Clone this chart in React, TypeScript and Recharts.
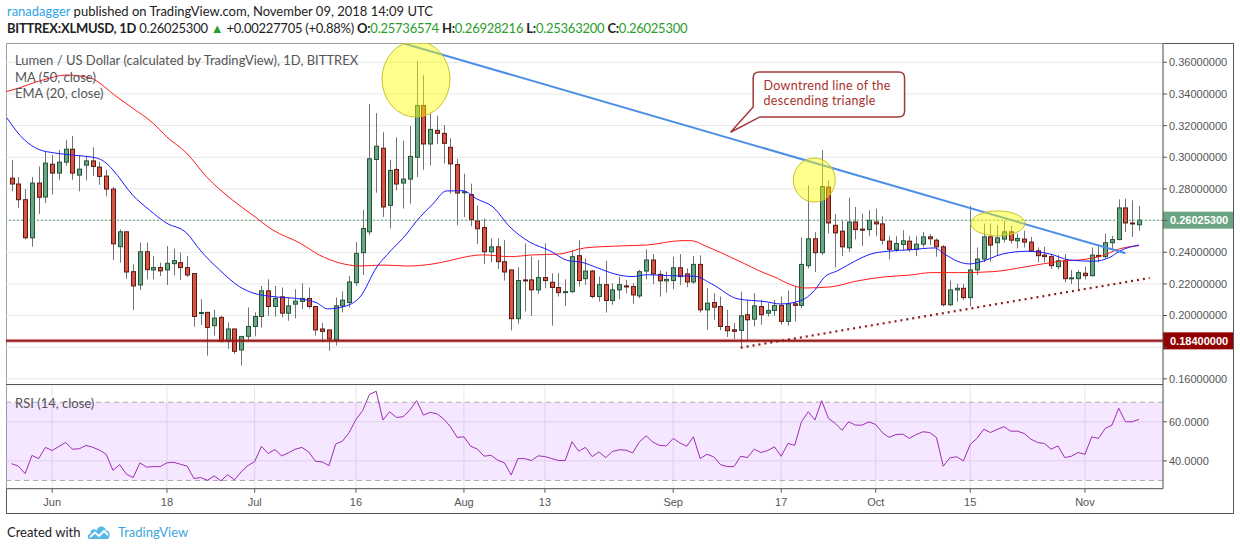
import React from "react";
import {
  ComposedChart,
  Bar,
  Line,
  XAxis,
  YAxis,
  CartesianGrid,
  ReferenceLine,
  ReferenceDot,
  ReferenceArea,
} from "recharts";

// day 0 = Jun 1 2018, first candle is May 26
const firstDay = -6;
const xDomain = [-6.84, 164.56];
const priceDomain = [0.1561, 0.3722];
const rsiDomain = [25.8, 78.8];

const tickDays = [0, 17, 30, 45, 61, 73, 92, 108, 122, 136, 153];
const tickLabels = ["Jun", "18", "Jul", "16", "Aug", "13", "Sep", "17", "Oct", "15", "Nov"];
const priceTicks = [0.16, 0.18, 0.2, 0.22, 0.24, 0.26, 0.28, 0.3, 0.32, 0.34, 0.36];
const rsiTicks = [40, 60];

const opens = [
  0.2868, 0.2831, 0.2732, 0.2491, 0.2837, 0.2749, 0.2956, 0.2900, 0.2969, 0.3051,
  0.2887, 0.2950, 0.2977, 0.2938, 0.2881, 0.2799, 0.2435, 0.2529, 0.2277, 0.2193,
  0.2403, 0.2288, 0.2303, 0.2288, 0.2328, 0.2334, 0.2303, 0.2265, 0.2013, 0.2020,
  0.1936, 0.1988, 0.1837, 0.1915, 0.1782, 0.1869, 0.1931, 0.1994, 0.2156, 0.2057,
  0.2118, 0.2015, 0.2072, 0.2089, 0.2108, 0.2057, 0.1915, 0.1909, 0.1846, 0.2061,
  0.2082, 0.2208, 0.2397, 0.2529, 0.2986, 0.3057, 0.2696, 0.2923, 0.2837, 0.2862,
  0.3000, 0.3327, 0.3084, 0.3170, 0.3151, 0.3063, 0.2954, 0.2776, 0.2764, 0.2598,
  0.2556, 0.2403, 0.2434, 0.2340, 0.2288, 0.1980, 0.2225, 0.2225, 0.2162, 0.2240,
  0.2210, 0.2177, 0.2145, 0.2151, 0.2378, 0.2233, 0.2281, 0.2120, 0.2195, 0.2095,
  0.2162, 0.2187, 0.2183, 0.2124, 0.2281, 0.2351, 0.2260, 0.2219, 0.2221, 0.2302,
  0.2263, 0.2212, 0.2323, 0.2036, 0.2082, 0.2057, 0.1931, 0.1910, 0.1906, 0.2005,
  0.1977, 0.2057, 0.2015, 0.2032, 0.2064, 0.1963, 0.2074, 0.2064, 0.2315, 0.2485,
  0.2397, 0.2811, 0.2570, 0.2533, 0.2428, 0.2591, 0.2546, 0.2543, 0.2591, 0.2579,
  0.2470, 0.2418, 0.2449, 0.2470, 0.2418, 0.2451, 0.2497, 0.2476, 0.2434, 0.2068,
  0.2162, 0.2172, 0.2113, 0.2288, 0.2357, 0.2497, 0.2460, 0.2483, 0.2529, 0.2472,
  0.2483, 0.2464, 0.2409, 0.2382, 0.2372, 0.2309, 0.2346, 0.2233, 0.2233, 0.2267,
  0.2252, 0.2380, 0.2372, 0.2460, 0.2480, 0.2680, 0.2585, 0.25736574,
];
const highs = [
  0.2984, 0.2875, 0.2799, 0.2875, 0.2942, 0.3036, 0.3015, 0.3047, 0.3110, 0.3135,
  0.3015, 0.3005, 0.3063, 0.2971, 0.2921, 0.2812, 0.2544, 0.2529, 0.2323, 0.2460,
  0.2460, 0.2376, 0.2334, 0.2439, 0.2422, 0.2397, 0.2376, 0.2265, 0.2103, 0.2020,
  0.2036, 0.1999, 0.1957, 0.1915, 0.1868, 0.2051, 0.2020, 0.2187, 0.2229, 0.2187,
  0.2177, 0.2114, 0.2166, 0.2204, 0.2177, 0.2057, 0.1953, 0.1909, 0.2114, 0.2152,
  0.2250, 0.2464, 0.2669, 0.3336, 0.3279, 0.3158, 0.2984, 0.3126, 0.3105, 0.3199,
  0.3608, 0.3518, 0.3283, 0.3262, 0.3204, 0.3120, 0.2990, 0.2896, 0.2833, 0.2696,
  0.2613, 0.2487, 0.2487, 0.2476, 0.2288, 0.2305, 0.2455, 0.2372, 0.2351, 0.2455,
  0.2267, 0.2267, 0.2229, 0.2413, 0.2476, 0.2361, 0.2288, 0.2246, 0.2346, 0.2204,
  0.2246, 0.2225, 0.2204, 0.2288, 0.2418, 0.2388, 0.2284, 0.2277, 0.2372, 0.2388,
  0.2298, 0.2376, 0.2380, 0.2173, 0.2141, 0.2120, 0.2036, 0.1952, 0.2151, 0.2099,
  0.2141, 0.2099, 0.2078, 0.2099, 0.2120, 0.2158, 0.2187, 0.2493, 0.2822, 0.2528,
  0.3046, 0.2853, 0.2640, 0.2602, 0.2745, 0.2686, 0.2644, 0.2665, 0.2675, 0.2627,
  0.2501, 0.2501, 0.2539, 0.2501, 0.2501, 0.2529, 0.2514, 0.2487, 0.2445, 0.2221,
  0.2200, 0.2200, 0.2692, 0.2430, 0.2581, 0.2581, 0.2571, 0.2596, 0.2567, 0.2518,
  0.2535, 0.2497, 0.2430, 0.2434, 0.2388, 0.2382, 0.2388, 0.2287, 0.2287, 0.2309,
  0.2430, 0.2451, 0.2518, 0.2504, 0.2734, 0.2738, 0.2728, 0.26928216,
];
const lows = [
  0.2785, 0.2680, 0.2481, 0.2435, 0.2642, 0.2711, 0.2764, 0.2858, 0.2946, 0.2858,
  0.2785, 0.2854, 0.2883, 0.2826, 0.2753, 0.2351, 0.2334, 0.2233, 0.2036, 0.2162,
  0.2229, 0.2229, 0.2250, 0.2193, 0.2254, 0.2225, 0.2244, 0.1929, 0.1940, 0.1747,
  0.1873, 0.1831, 0.1789, 0.1758, 0.1684, 0.1841, 0.1869, 0.1923, 0.1999, 0.1994,
  0.1988, 0.1967, 0.1982, 0.2040, 0.2045, 0.1873, 0.1831, 0.1778, 0.1810, 0.2020,
  0.2051, 0.2187, 0.2256, 0.2508, 0.2776, 0.2623, 0.2550, 0.2791, 0.2676, 0.2707,
  0.2875, 0.2921, 0.2948, 0.3084, 0.2961, 0.2770, 0.2571, 0.2623, 0.2564, 0.2451,
  0.2326, 0.2336, 0.2294, 0.2221, 0.1906, 0.1948, 0.2026, 0.1998, 0.2137, 0.2172,
  0.1936, 0.2120, 0.2061, 0.2141, 0.2183, 0.2193, 0.2109, 0.2088, 0.2019, 0.2068,
  0.2103, 0.2141, 0.2074, 0.2109, 0.2229, 0.2200, 0.2120, 0.2145, 0.2166, 0.2193,
  0.2179, 0.2200, 0.2019, 0.1910, 0.1973, 0.1906, 0.1864, 0.1852, 0.1805, 0.1847,
  0.1931, 0.1942, 0.1994, 0.1998, 0.1942, 0.1936, 0.1963, 0.2046, 0.2298, 0.2275,
  0.2382, 0.2518, 0.2304, 0.2376, 0.2403, 0.2481, 0.2439, 0.2501, 0.2501, 0.2449,
  0.2355, 0.2403, 0.2413, 0.2403, 0.2376, 0.2430, 0.2445, 0.2372, 0.2057, 0.2061,
  0.2088, 0.2099, 0.2057, 0.2256, 0.2336, 0.2340, 0.2376, 0.2460, 0.2455, 0.2424,
  0.2430, 0.2403, 0.2336, 0.2336, 0.2294, 0.2292, 0.2210, 0.2200, 0.2168, 0.2229,
  0.2246, 0.2336, 0.2361, 0.2418, 0.2476, 0.2529, 0.2497, 0.253632,
];
const closes = [
  0.2831, 0.2732, 0.2491, 0.2837, 0.2747, 0.2963, 0.2900, 0.2969, 0.3051, 0.2900,
  0.2925, 0.2977, 0.2942, 0.2879, 0.2799, 0.2453, 0.2529, 0.2275, 0.2187, 0.2403,
  0.2290, 0.2303, 0.2282, 0.2330, 0.2347, 0.2303, 0.2256, 0.1994, 0.2019, 0.1925,
  0.1984, 0.1837, 0.1915, 0.1774, 0.1868, 0.1931, 0.1994, 0.2156, 0.2057, 0.2108,
  0.2015, 0.2061, 0.2091, 0.2108, 0.2057, 0.1909, 0.1900, 0.1852, 0.2061, 0.2097,
  0.2212, 0.2393, 0.2550, 0.2990, 0.3070, 0.2686, 0.2917, 0.2831, 0.2862, 0.3005,
  0.3327, 0.3084, 0.3176, 0.3151, 0.3088, 0.2958, 0.2774, 0.2782, 0.2606, 0.2548,
  0.2403, 0.2434, 0.2340, 0.2275, 0.1980, 0.2221, 0.2221, 0.2162, 0.2240, 0.2221,
  0.2177, 0.2145, 0.2151, 0.2372, 0.2221, 0.2281, 0.2120, 0.2195, 0.2095, 0.2162,
  0.2195, 0.2181, 0.2130, 0.2277, 0.2351, 0.2263, 0.2219, 0.2229, 0.2302, 0.2246,
  0.2212, 0.2323, 0.2036, 0.2078, 0.2053, 0.1931, 0.1904, 0.1900, 0.1998, 0.1973,
  0.2061, 0.2005, 0.2032, 0.2064, 0.1963, 0.2074, 0.2064, 0.2323, 0.2485, 0.2397,
  0.2815, 0.2585, 0.2522, 0.2434, 0.2591, 0.2543, 0.2539, 0.2602, 0.2579, 0.2476,
  0.2418, 0.2455, 0.2472, 0.2418, 0.2451, 0.2497, 0.2485, 0.2434, 0.2068, 0.2162,
  0.2172, 0.2113, 0.2288, 0.2357, 0.2497, 0.2445, 0.2491, 0.2529, 0.2476, 0.2487,
  0.2464, 0.2409, 0.2378, 0.2372, 0.2315, 0.2346, 0.2233, 0.2238, 0.2271, 0.2252,
  0.2382, 0.2372, 0.2460, 0.2480, 0.2680, 0.2585, 0.25797595, 0.260253,
];

const rsiValues = [
  38.6, 37.3, 33.5, 42.8, 41.2, 46.9, 45.3, 47.4, 49.4, 46.0,
  46.2, 47.9, 47.0, 45.5, 43.4, 35.2, 38.1, 33.2, 31.5, 39.0,
  36.8, 37.1, 37.1, 39.0, 39.3, 38.3, 37.3, 31.0, 31.5, 30.1,
  32.3, 29.8, 33.0, 30.3, 34.4, 37.6, 39.7, 47.4, 43.8, 45.8,
  42.6, 44.1, 46.0, 46.9, 44.6, 39.8, 39.5, 37.6, 48.6, 50.1,
  54.5, 61.2, 65.7, 74.0, 75.6, 60.9, 65.1, 62.2, 62.6, 66.0,
  70.8, 63.4, 64.8, 64.1, 61.4, 57.5, 52.0, 52.3, 47.5, 46.0,
  42.4, 42.9, 40.4, 39.0, 32.8, 41.2, 41.2, 40.2, 42.6, 42.2,
  41.2, 40.2, 40.2, 49.8, 45.0, 46.9, 42.2, 44.6, 41.7, 44.8,
  45.7, 45.5, 44.1, 49.8, 52.8, 49.6, 47.9, 47.7, 51.5, 49.2,
  47.5, 52.3, 41.2, 43.4, 42.1, 38.1, 37.1, 37.1, 42.4, 41.7,
  46.0, 44.3, 45.3, 47.2, 42.4, 48.9, 48.0, 60.0, 65.1, 60.9,
  70.8, 61.7, 59.2, 55.7, 60.0, 58.3, 58.3, 60.0, 58.6, 54.4,
  52.0, 53.5, 53.7, 51.5, 53.5, 54.9, 54.5, 52.0, 37.3, 41.6,
  42.1, 40.0, 48.4, 51.5, 56.2, 54.5, 56.1, 57.5, 55.2, 55.2,
  54.0, 51.1, 49.4, 48.9, 46.0, 47.7, 41.7, 42.4, 44.3, 43.4,
  52.3, 51.5, 56.6, 58.3, 66.9, 60.0, 60.0, 61.2,
];

// moving averages at these days
const ma50Days = [
  -6.8, -5.9, -1.4, 2.1, 5.6, 9.6, 11.9, 14.9, 17.0, 19.9, 22.9, 26.7, 29.7, 32.7, 36.7, 39.6, 42.6,
  45.6, 49.0, 52.5, 56.4, 58.9, 61.4, 63.8, 67.8, 71.2, 75.2, 78.9, 84.4, 88.2, 93.3, 94.7, 96.7,
  101.6, 105.6, 107.0, 109.4, 111.5, 115.3, 119.3, 123.3, 127.2, 130.1, 134.4, 139.3, 144.4, 149.3,
  153.3, 155.6, 158.1, 161.0,
];
const ma50Values = [
  0.3415, 0.3425, 0.3488, 0.352, 0.3501, 0.3381, 0.3311, 0.3217, 0.3128, 0.3027, 0.2875, 0.273,
  0.2635, 0.254, 0.2458, 0.2382, 0.2332, 0.2313, 0.2319, 0.2313, 0.2326, 0.2347, 0.2372, 0.2383,
  0.2372, 0.2383, 0.2389, 0.2427, 0.244, 0.2446, 0.2473, 0.2473, 0.2441, 0.2347, 0.2267, 0.2244,
  0.2195, 0.2174, 0.2181, 0.2219, 0.2244, 0.2256, 0.2271, 0.2271, 0.2277, 0.2309, 0.2343, 0.2357,
  0.2378, 0.2421, 0.2441,
];
const ema20Days = [
  -6.7, -4.1, -2.1, 0.4, 3.0, 6.6, 7.8, 9.0, 11.9, 14.4, 16.9, 19.9, 21.9, 24.8, 27.8, 29.7, 33.3,
  36.7, 39.2, 40.8, 43.0, 45.6, 48.1, 50.0, 52.5, 54.0, 56.4, 58.4, 60.8, 62.9, 65.3, 67.8, 70.7,
  73.7, 76.4, 78.4, 80.8, 83.3, 85.9, 88.2, 91.2, 95.2, 97.7, 101.6, 105.6, 107.9, 110.9, 112.9,
  114.4, 116.4, 118.9, 121.3, 123.8, 127.2, 130.7, 132.2, 134.1, 135.9, 137.4, 140.8, 144.4, 147.8,
  150.7, 154.2, 156.7, 158.1, 161.0,
];
const ema20Values = [
  0.3248, 0.3109, 0.3052, 0.3027, 0.3014, 0.2995, 0.297, 0.292, 0.2762, 0.2667, 0.2585, 0.2522,
  0.2414, 0.2288, 0.2181, 0.2143, 0.2117, 0.2105, 0.208, 0.2042, 0.2054, 0.2117, 0.2307, 0.2402,
  0.2515, 0.2598, 0.2705, 0.2787, 0.2789, 0.2737, 0.2686, 0.256, 0.2465, 0.241, 0.2347, 0.2337,
  0.2301, 0.2263, 0.2246, 0.2258, 0.2252, 0.2248, 0.22, 0.2105, 0.2088, 0.2073, 0.2094, 0.2157,
  0.2242, 0.2284, 0.2343, 0.2389, 0.2406, 0.2416, 0.2427, 0.2389, 0.2343, 0.2326, 0.2337, 0.2389,
  0.2406, 0.2389, 0.2351, 0.2343, 0.2368, 0.2406, 0.2446,
];

// drawings
const supportLevel = 0.184;
const downtrendDays = [52.0, 159.0];
const downtrendPrices = [0.372, 0.2393];
const risingDays = [102.0, 162.6];
const risingPrices = [0.1797, 0.2237];
const highlightDays = [53.9, 112.9, 140.1];
const highlightPrices = [0.3494, 0.2856, 0.2582];
const calloutDay = 100.5;
const calloutPrice = 0.3158;
const calloutLines = ["Downtrend line of the", "descending triangle"];

const sans = "Lato, 'Open Sans', sans-serif";
const axisFont = "'Liberation Sans', Arial, sans-serif";
const upFill = "#6ba583";
const upLine = "#225437";
const downFill = "#d75442";
const downLine = "#5b1a13";
const gridColor = "#e6e6e6";
const axisColor = "#555";
const headGreen = "#2a9d2a";

function Candle(props: any) {
  const { x, y, width, height, payload } = props;
  if (x == null || payload == null) return null;
  const top = Math.min(y, y + height);
  const span = Math.abs(height);
  const { o, h, l, c } = payload;
  const py = (v: number) => top + ((h - v) / (h - l || 1)) * span;
  const cx = Math.round(x + width / 2) + 0.5;
  const up = c >= o;
  const bTop = py(Math.max(o, c));
  const bBot = py(Math.min(o, c));
  return (
    <g>
      <line x1={cx} x2={cx} y1={top} y2={top + span} stroke="#737375" strokeWidth={1} />
      <rect
        x={cx - 2}
        y={bTop}
        width={4}
        height={Math.max(1, bBot - bTop)}
        fill={up ? upFill : downFill}
        stroke={up ? upLine : downLine}
        strokeWidth={1}
      />
    </g>
  );
}

// price labels, leaving out the ones hidden under the badges
function PriceTick(props: any) {
  const { x, y, payload, hidden } = props;
  if (hidden.some((h: number) => Math.abs(h - payload.value) < 0.007)) return null;
  return (
    <text x={x} y={y} dy="0.355em" textAnchor="start" fontSize={11} fill={axisColor} fontFamily={axisFont}>
      {Number(payload.value).toFixed(8)}
    </text>
  );
}

function Badge(props: any) {
  const { viewBox, text, fill } = props;
  if (!viewBox) return null;
  const x = viewBox.x + viewBox.width;
  const y = viewBox.y;
  return (
    <g>
      <rect x={x} y={y - 8.5} width={71} height={17} fill={fill} />
      <text x={x + 7} y={y + 4} fill="#fff" fontSize={11} fontWeight={700} fontFamily={axisFont}>
        {text}
      </text>
    </g>
  );
}

function Highlight(props: any) {
  const { cx, cy, rx, ry } = props;
  if (cx == null) return null;
  return <ellipse cx={cx} cy={cy} rx={rx} ry={ry} fill="rgba(255,255,0,0.45)" stroke="#c6c22c" strokeWidth={1} />;
}

function Callout(props: any) {
  const { cx, cy } = props;
  if (cx == null) return null;
  const L = cx + 22.6;
  const R = cx + 174;
  const T = cy - 60.3;
  const B = cy - 15.3;
  const r = 6;
  const d =
    `M${L + r},${T} H${R - r} Q${R},${T} ${R},${T + r} V${B - r} Q${R},${B} ${R - r},${B} ` +
    `H${cx + 29.3} L${cx},${cy} L${L},${cy - 25.3} V${T + r} Q${L},${T} ${L + r},${T} Z`;
  return (
    <g>
      <path d={d} fill="#fff" stroke="#a33a3a" strokeWidth={1.5} />
      <text fill="#a8322d" fontSize={12.5} letterSpacing={0.3} fontFamily={sans}>
        <tspan x={cx + 33} y={cy - 42.5}>
          {calloutLines[0]}
        </tspan>
        <tspan x={cx + 33} y={cy - 27.4}>
          {calloutLines[1]}
        </tspan>
      </text>
    </g>
  );
}

function Logo() {
  return (
    <svg width="24" height="16" viewBox="0 0 24 16" style={{ position: "absolute", left: 87, top: 524 }}>
      <path d="M3 15 C0 15 0 10 3.5 9.5 C3 5 8 4 9.5 6.5 C11 1 18 1 19 6.5 C23 6.5 24 12 21 15 Z" fill="#56b8e6" />
      <path d="M3 13 L8 8.5 L12 12 L17 7 L21 11" fill="none" stroke="#fff" strokeWidth={2} />
    </svg>
  );
}

export default function App() {
  const candles = opens.map((o, k) => ({
    d: firstDay + k,
    o,
    h: highs[k],
    l: lows[k],
    c: closes[k],
    range: [lows[k], highs[k]],
  }));
  const rsiData = rsiValues.map((v, k) => ({ d: firstDay + k, rsi: v }));
  const ma50Data = ma50Days.map((d, k) => ({ d, v: ma50Values[k] }));
  const ema20Data = ema20Days.map((d, k) => ({ d, v: ema20Values[k] }));

  const last = closes.length - 1;
  const lastClose = closes[last];
  const change = lastClose - closes[last - 1];
  const changePct = (change / closes[last - 1]) * 100;

  const tick = { fontSize: 11, fill: axisColor, fontFamily: axisFont };
  const fmtDay = (v: number) => tickLabels[tickDays.indexOf(v)] ?? "";
  const badgeLevels = [lastClose, supportLevel];

  return (
    <div style={{ position: "absolute", left: 0, top: 0, width: 1240, height: 550, background: "#fff", fontFamily: sans }}>
      <div style={{ position: "absolute", left: 7, top: 3, fontSize: 13, lineHeight: "17px", color: "#222", whiteSpace: "nowrap" }}>
        <span style={{ color: "#2fa4e7" }}>ranadagger</span> published on TradingView.com, November 09, 2018 14:09 UTC
      </div>
      <div
        style={{
          position: "absolute",
          left: 7,
          top: 20,
          fontSize: 13,
          lineHeight: "17px",
          letterSpacing: "-0.25px",
          color: "#222",
          whiteSpace: "nowrap",
        }}
      >
        <b>BITTREX:XLMUSD, 1D</b> {lastClose.toFixed(8)} <span style={{ color: headGreen }}>▲</span> +{change.toFixed(8)} (+
        {changePct.toFixed(2)}%) <b>O:</b>
        <span style={{ color: headGreen }}>{opens[last].toFixed(8)}</span> <b>H:</b>
        <span style={{ color: headGreen }}>{highs[last].toFixed(8)}</span> <b>L:</b>
        <span style={{ color: headGreen }}>{lows[last].toFixed(8)}</span> <b>C:</b>
        <span style={{ color: headGreen }}>{lastClose.toFixed(8)}</span>
      </div>

      <div style={{ position: "absolute", left: 6, top: 43, width: 1228, height: 471, border: `1px solid ${axisColor}`, boxSizing: "border-box" }} />

      <div style={{ position: "absolute", left: 6, top: 43 }}>
        <ComposedChart width={1227} height={342} data={candles} margin={{ top: 0, right: 0, bottom: 0, left: 0 }}>
          <CartesianGrid stroke={gridColor} />
          <XAxis dataKey="d" type="number" domain={xDomain} ticks={tickDays} height={0} tick={false} axisLine={false} tickLine={false} allowDataOverflow />
          <YAxis
            orientation="right"
            width={70}
            domain={priceDomain}
            ticks={priceTicks}
            interval={0}
            tick={(p: any) => <PriceTick {...p} hidden={badgeLevels} />}
            tickSize={4}
            tickMargin={2}
            axisLine={{ stroke: axisColor }}
            tickLine={{ stroke: axisColor }}
            allowDataOverflow
          />
          <Line data={ma50Data} dataKey="v" type="monotone" stroke="#ff1a1a" strokeWidth={1} dot={false} isAnimationActive={false} />
          <Line data={ema20Data} dataKey="v" type="monotone" stroke="#1a1aff" strokeWidth={1} dot={false} isAnimationActive={false} />
          <Bar dataKey="range" barSize={5} shape={Candle} isAnimationActive={false} />
          <ReferenceLine
            y={lastClose}
            stroke="#5e9f78"
            strokeDasharray="2 2"
            label={(p: any) => <Badge {...p} text={lastClose.toFixed(8)} fill={upFill} />}
          />
          <ReferenceLine y={supportLevel} stroke="#a02020" strokeOpacity={0.3} strokeWidth={4} />
          <ReferenceLine
            y={supportLevel}
            stroke="#961a1a"
            strokeWidth={2}
            label={(p: any) => <Badge {...p} text={supportLevel.toFixed(8)} fill="#920000" />}
          />
          <ReferenceLine
            segment={[
              { x: downtrendDays[0], y: downtrendPrices[0] },
              { x: downtrendDays[1], y: downtrendPrices[1] },
            ]}
            stroke="#4c8fe6"
            strokeWidth={2}
            ifOverflow="visible"
          />
          <ReferenceLine
            segment={[
              { x: risingDays[0], y: risingPrices[0] },
              { x: risingDays[1], y: risingPrices[1] },
            ]}
            stroke="#8e1b1b"
            strokeWidth={2.2}
            strokeDasharray="2 4"
            ifOverflow="visible"
          />
          <ReferenceDot x={highlightDays[0]} y={highlightPrices[0]} r={1} ifOverflow="visible" shape={(p: any) => <Highlight {...p} rx={34} ry={38} />} />
          <ReferenceDot x={highlightDays[1]} y={highlightPrices[1]} r={1} ifOverflow="visible" shape={(p: any) => <Highlight {...p} rx={21} ry={22} />} />
          <ReferenceDot x={highlightDays[2]} y={highlightPrices[2]} r={1} ifOverflow="visible" shape={(p: any) => <Highlight {...p} rx={27} ry={12.5} />} />
          <ReferenceDot x={calloutDay} y={calloutPrice} r={1} ifOverflow="visible" shape={(p: any) => <Callout {...p} />} />
        </ComposedChart>
      </div>

      <div style={{ position: "absolute", left: 15, top: 52, fontSize: 13, lineHeight: "16.5px", color: "#555", whiteSpace: "nowrap" }}>
        <div>Lumen / US Dollar (calculated by TradingView), 1D, BITTREX</div>
        <div>MA (50, close)</div>
        <div>EMA (20, close)</div>
      </div>

      <div style={{ position: "absolute", left: 6, top: 384, width: 1157, height: 1, background: axisColor }} />

      <div style={{ position: "absolute", left: 6, top: 385 }}>
        <ComposedChart width={1227} height={128} data={rsiData} margin={{ top: 0, right: 0, bottom: 0, left: 0 }}>
          <CartesianGrid stroke={gridColor} />
          <ReferenceArea y1={30} y2={70} fill="#9915ff" fillOpacity={0.1} stroke="none" />
          <ReferenceLine y={70} stroke="#b0a7b5" strokeDasharray="5 4" />
          <ReferenceLine y={30} stroke="#b0a7b5" strokeDasharray="5 4" />
          <XAxis
            dataKey="d"
            type="number"
            domain={xDomain}
            ticks={tickDays}
            interval={0}
            tickFormatter={fmtDay}
            height={24.3}
            tick={tick}
            tickSize={4}
            tickMargin={5}
            axisLine={{ stroke: axisColor }}
            tickLine={{ stroke: axisColor }}
            allowDataOverflow
          />
          <YAxis
            orientation="right"
            width={70}
            domain={rsiDomain}
            ticks={rsiTicks}
            interval={0}
            tickFormatter={(v: number) => v.toFixed(4)}
            tick={tick}
            tickSize={4}
            tickMargin={2}
            axisLine={{ stroke: axisColor }}
            tickLine={{ stroke: axisColor }}
            allowDataOverflow
          />
          <Line dataKey="rsi" type="linear" stroke="#9c2fb0" strokeWidth={1} dot={false} isAnimationActive={false} />
        </ComposedChart>
      </div>

      <div style={{ position: "absolute", left: 15, top: 395, fontSize: 13, lineHeight: "16px", color: "#555", whiteSpace: "nowrap" }}>
        RSI (14, close)
      </div>

      <div style={{ position: "absolute", left: 7, top: 524, fontSize: 13, lineHeight: "16px", color: "#222", whiteSpace: "nowrap" }}>
        Created with
      </div>
      <Logo />
      <div style={{ position: "absolute", left: 118, top: 524, fontSize: 13, lineHeight: "16px", color: "#3ca6dc", whiteSpace: "nowrap" }}>
        TradingView
      </div>
    </div>
  );
}
